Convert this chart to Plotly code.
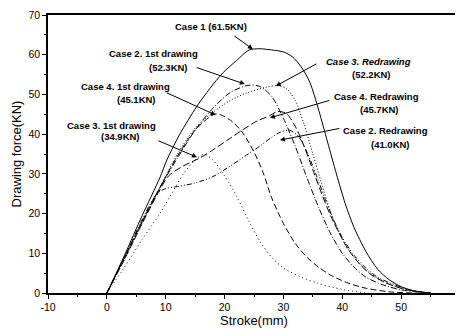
import plotly.graph_objects as go

# ---- data ----
case1_x = [0, 3, 6, 9, 10.2, 12.4, 15.3, 17.5, 19.7, 22, 24.2, 26, 28, 30, 31.5, 33, 34.5, 36, 37.5, 39, 40.5, 42, 44, 46, 48, 50, 52, 54, 55]
case1_y = [0, 9.5, 19.5, 29, 33.5, 40, 47, 51.5, 55.4, 58.5, 61.2, 61.5, 61.2, 60.7, 59.5, 57, 53, 46, 38, 30, 22.5, 16.5, 10.5, 6, 3.3, 1.6, 0.6, 0.1, 0]

c2_1st_x = [0, 3, 6, 9, 12, 15, 18, 21, 24, 26, 28, 30, 32, 34, 36, 38, 40, 42, 44, 47, 50, 53, 55]
c2_1st_y = [0, 9, 18, 26.5, 34, 41, 46.5, 50.5, 52.3, 52, 49.5, 44, 37, 29, 21.5, 15, 10, 6.5, 4, 2, 0.8, 0.2, 0]

c3_red_x = [0, 3, 6, 9, 12, 15, 18, 21, 24, 27, 29, 30.5, 32, 33.5, 35, 36.5, 38, 40, 42, 44, 47, 50, 53, 55]
c3_red_y = [0, 8.5, 17.5, 26.5, 35, 41.5, 45.5, 48.5, 50.5, 51.8, 52.2, 51.5, 48.5, 42.5, 35, 27.5, 20.5, 13.5, 9, 5.8, 2.8, 1.2, 0.3, 0]

c4_1st_x = [0, 3, 6, 9, 12, 15, 18.5, 21, 23, 25, 26.5, 28, 30, 32, 34, 36, 38, 41, 44, 48, 52]
c4_1st_y = [0, 9, 18, 26.5, 34.5, 41, 45.1, 43.5, 40.5, 35.5, 30.5, 24, 17.5, 12.5, 9, 6.5, 4.5, 2.5, 1.2, 0.3, 0]

c4_red_x = [0, 3, 6, 9, 10.5, 13, 15.8, 18, 20.8, 23, 25.5, 27.6, 29, 30.5, 32, 33.5, 35, 36.5, 38, 39.5, 41, 43, 45, 48, 51, 55]
c4_red_y = [0, 8.5, 17.5, 26, 29.5, 32, 34, 36, 38.8, 41, 43.3, 44.6, 45.7, 45.2, 42, 37, 31, 25, 19.5, 15, 11, 7.2, 4.5, 2.2, 0.8, 0]

c2_red_x = [0, 3, 6, 8.5, 10, 12, 15, 18, 21, 24, 26, 28, 29.5, 31, 32.5, 34, 35.5, 37, 38.5, 40, 42, 44, 46, 49, 52, 55]
c2_red_y = [0, 9, 18.5, 25, 26.3, 26.8, 27.7, 29.3, 32, 35, 37, 39.2, 40.5, 41, 39.5, 35.5, 30, 24, 18.5, 14, 9.5, 6.3, 4, 2, 0.6, 0]

c3_1st_x = [0, 3, 6, 9, 11, 13, 15, 16.5, 18, 20, 22, 24, 26, 28, 30, 33, 36, 40, 44]
c3_1st_y = [0, 6.5, 13.5, 20, 25, 30, 33.5, 34.9, 33.5, 29.5, 24.5, 18.5, 13, 9, 6.3, 4, 2.4, 0.9, 0]

x_ticks = [-10, 0, 10, 20, 30, 40, 50, 60]
y_ticks = [0, 10, 20, 30, 40, 50, 60, 70]

FONT = "Arial, Liberation Sans, sans-serif"

fig = go.Figure()

series = [
    (case1_x, case1_y, "solid", "Case 1"),
    (c2_1st_x, c2_1st_y, "6px,2px,1px,2px", "Case 2 1st"),
    (c3_red_x, c3_red_y, "1px,2px", "Case 3 redraw"),
    (c4_1st_x, c4_1st_y, "6px,3px", "Case 4 1st"),
    (c4_red_x, c4_red_y, "7px,3px", "Case 4 redraw"),
    (c2_red_x, c2_red_y, "5px,2px,1px,2px,1px,2px", "Case 2 redraw"),
    (c3_1st_x, c3_1st_y, "1px,3px", "Case 3 1st"),
]
for xs, ys, dash, name in series:
    fig.add_trace(go.Scatter(x=xs, y=ys, mode="lines", name=name,
                             line=dict(color="black", width=1, dash=dash, shape="spline", smoothing=0.8)))

# text labels: (text, x, y, italic)
labels = [
    ("Case 1 (61.5KN)", 17.7, 67.0, False),
    ("Case 2. 1st drawing", 7.9, 60.4, False),
    ("(52.3KN)", 10.55, 56.9, False),
    ("Case 4. 1st drawing", 3.1, 51.9, False),
    ("(45.1KN)", 5.1, 48.6, False),
    ("Case 3. 1st drawing", 0.85, 42.3, False),
    ("(34.9KN)", 2.4, 39.3, False),
    ("Case 3. Redrawing", 44.5, 58.2, True),
    ("(52.2KN)", 45.0, 54.9, False),
    ("Case 4. Redrawing", 45.8, 49.4, False),
    ("(45.7KN)", 46.4, 46.1, False),
    ("Case 2. Redrawing", 47.4, 41.0, False),
    ("(41.0KN)", 48.25, 37.3, False),
]
for t, x, y, it in labels:
    txt = f"<b><i>{t}</i></b>" if it else f"<b>{t}</b>"
    fig.add_annotation(x=x, y=y, text=txt, showarrow=False, xref="x", yref="y",
                       font=dict(family=FONT, size=9.5, color="black"))

# arrows: (from x, from y, to x, to y)
arrows = [
    (21.4, 65.0, 24.8, 61.4),
    (15.0, 56.9, 23.45, 52.6),
    (9.9, 50.6, 18.5, 44.8),
    (8.5, 38.5, 15.3, 34.2),
    (35.85, 57.9, 28.7, 52.1),
    (38.05, 48.6, 27.7, 44.1),
    (39.75, 41.5, 29.4, 38.5),
]
for ax_, ay_, x, y in arrows:
    fig.add_annotation(x=x, y=y, ax=ax_, ay=ay_, xref="x", yref="y", axref="x", ayref="y",
                       text="", showarrow=True, arrowhead=2, arrowsize=1, arrowwidth=1,
                       arrowcolor="black")

axis_common = dict(showline=True, linecolor="black", linewidth=1.5, mirror=True,
                   ticks="outside", ticklen=4, tickcolor="black", showgrid=False,
                   zeroline=False, automargin=False,
                   tickfont=dict(family=FONT, size=10.5, color="black"),
                   minor=dict(ticks="outside", ticklen=2, tickcolor="black"))

fig.update_xaxes(range=[-10, 60], tickvals=x_ticks, ticktext=[str(v) for v in x_ticks],
                 title=dict(text="Stroke(mm)", font=dict(family=FONT, size=13, color="black"), standoff=4),
                 **axis_common)
fig.update_yaxes(range=[0, 70], tickvals=y_ticks, ticktext=[str(v) for v in y_ticks],
                 title=dict(text="Drawing force(KN)", font=dict(family=FONT, size=13, color="black"), standoff=4),
                 **axis_common)

# page body has an 8px default margin; size/margins compensate so the plot area lands at x 48-460, y 15-293
fig.update_layout(width=455, height=328, margin=dict(l=40, r=3, t=7, b=43),
                  paper_bgcolor="white", plot_bgcolor="white", showlegend=False)

fig.write_html("out.html")
